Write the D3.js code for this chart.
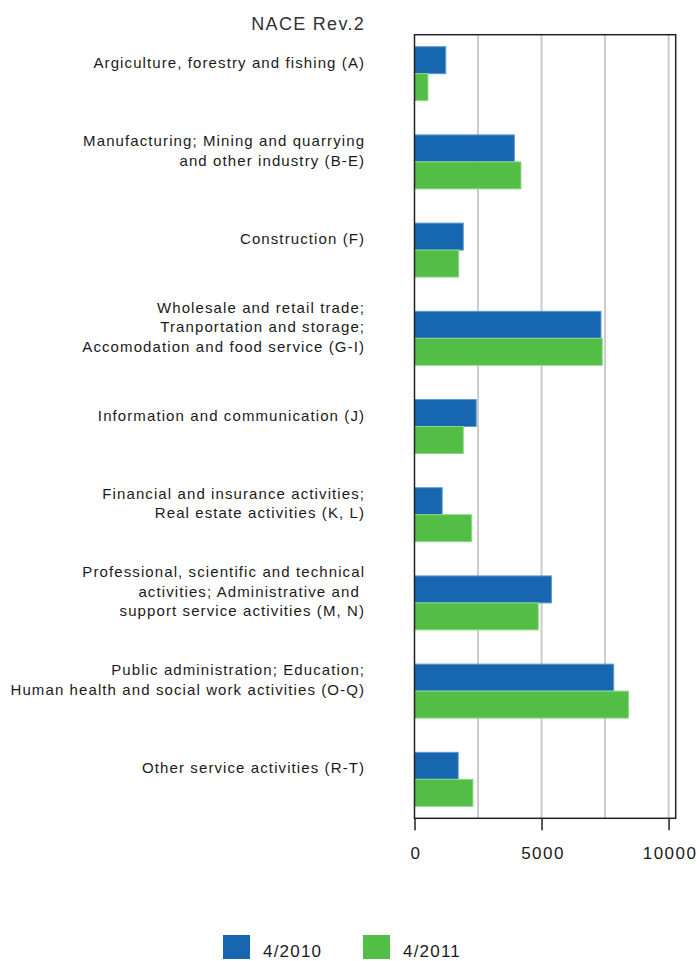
<!DOCTYPE html>
<html>
<head>
<meta charset="utf-8">
<script src="https://cdn.jsdelivr.net/npm/d3@7"></script>
<style>
  body { margin: 0; background: #fff; }
  text { font-family: "Liberation Sans", Arial, sans-serif; }
</style>
</head>
<body>
<div id="chart"></div>
<script>
// categories (label lines) and values
const categories = [
    ["Argiculture, forestry and fishing (A)"],
    ["Manufacturing; Mining and quarrying", "and other industry (B-E)"],
    ["Construction (F)"],
    ["Wholesale and retail trade;", "Tranportation and storage;", "Accomodation and food service (G-I)"],
    ["Information and communication (J)"],
    ["Financial and insurance activities;", "Real estate activities (K, L)"],
    ["Professional, scientific and technical", "activities; Administrative and ", "support service activities (M, N)"],
    ["Public administration; Education;", "Human health and social work activities (O-Q)"],
    ["Other service activities (R-T)"]
];
const series = ["4/2010", "4/2011"];
const values2010 = [1230, 3930, 1920, 7340, 2430, 1090, 5390, 7840, 1720];
const values2011 = [530, 4190, 1740, 7390, 1920, 2250, 4870, 8420, 2300];
const gridTicks = [2500, 5000, 7500, 10000];
const axisTicks = [0, 5000, 10000];

const COLORS = {
    "4/2010": "#1766b0",
    "4/2011": "#52be45",
    stroke2010: "#5f9ad0",
    stroke2011: "#8fd985",
    grid: "#cccccc",
    frame: "#222222",
    text: "#1a1a1a"
};

const W = 697, H = 961;
const plot = {left: 414.5, right: 675.7, top: 34.7, bottom: 818.3};
const LABEL_LS = 1.1; //letter spacing of the category labels

const svg = d3.select("#chart").append("svg")
    .attr("width", W)
    .attr("height", H);

//////////////// Scales ////////////////
const x = d3.scaleLinear()
    .domain([0, 10280])
    .range([plot.left, plot.right]);

const y = d3.scaleBand()
    .domain(d3.range(categories.length))
    .range([plot.top, plot.bottom])
    .paddingInner(0.388)
    .paddingOuter(0.136);

const ySub = d3.scaleBand()
    .domain(series)
    .range([0, y.bandwidth()]);

//////////////// Grid ////////////////
svg.append("g")
    .selectAll("line")
    .data(gridTicks)
    .join("line")
    .attr("x1", d => x(d)).attr("x2", d => x(d))
    .attr("y1", plot.top).attr("y2", plot.bottom)
    .attr("stroke", COLORS.grid)
    .attr("stroke-width", 2);

//////////////// Bars ////////////////
const rows = categories.map((c, i) => ({i, v: {"4/2010": values2010[i], "4/2011": values2011[i]}}));

const groups = svg.append("g")
    .selectAll("g")
    .data(rows)
    .join("g")
    .attr("transform", d => `translate(0,${y(d.i)})`);

groups.selectAll("rect")
    .data(d => series.map(s => ({s, v: d.v[s]})))
    .join("rect")
    .attr("x", x(0))
    .attr("y", d => ySub(d.s))
    .attr("width", d => x(d.v) - x(0))
    .attr("height", ySub.bandwidth())
    .attr("fill", d => COLORS[d.s])
    .attr("stroke", d => d.s === "4/2010" ? COLORS.stroke2010 : COLORS.stroke2011)
    .attr("stroke-width", 1);

//////////////// Frame ////////////////
svg.append("rect")
    .attr("x", plot.left).attr("y", plot.top)
    .attr("width", plot.right - plot.left)
    .attr("height", plot.bottom - plot.top)
    .attr("fill", "none")
    .attr("stroke", COLORS.frame)
    .attr("stroke-width", 1.5);

//////////////// Axis ////////////////
const xAxis = svg.append("g")
    .attr("transform", `translate(0,${plot.bottom})`)
    .call(d3.axisBottom(x).tickValues(axisTicks).tickSize(12).tickPadding(17).tickFormat(d3.format("d")));
xAxis.select(".domain").remove();
xAxis.selectAll(".tick line").attr("stroke", COLORS.frame).attr("stroke-width", 1.5);
xAxis.selectAll(".tick text")
    .attr("font-size", 17)
    .attr("letter-spacing", 1.5)
    .attr("dx", 1)
    .attr("font-family", "Liberation Sans, Arial, sans-serif")
    .attr("fill", COLORS.text);

//////////////// Category labels ////////////////
const lineH = 19.5;
svg.append("g")
    .selectAll("text")
    .data(rows)
    .join("text")
    .attr("text-anchor", "end")
    .attr("font-size", 15)
    .attr("letter-spacing", LABEL_LS)
    .attr("fill", COLORS.text)
    .each(function(d) {
        const lines = categories[d.i];
        const cy = y(d.i) + 16;
        const y0 = cy - (lines.length - 1) * lineH / 2 + 5;
        d3.select(this).selectAll("tspan")
            .data(lines)
            .join("tspan")
            .attr("x", 364 + LABEL_LS)
            .attr("y", (l, k) => y0 + k * lineH)
            .text(l => l);
    });

//////////////// Title ////////////////
svg.append("text")
    .attr("x", 365)
    .attr("y", 30)
    .attr("text-anchor", "end")
    .attr("font-size", 18)
    .attr("letter-spacing", 1.3)
    .attr("fill", "#333")
    .text("NACE Rev.2");

//////////////// Legend ////////////////
const legend = svg.append("g")
    .selectAll("g")
    .data(series)
    .join("g")
    .attr("transform", (d, i) => `translate(${223 + i * 140},935)`);

legend.append("rect")
    .attr("width", 27)
    .attr("height", 24)
    .attr("fill", d => COLORS[d]);

legend.append("text")
    .attr("x", 40)
    .attr("y", 22)
    .attr("font-size", 17)
    .attr("letter-spacing", 1.2)
    .attr("fill", COLORS.text)
    .text(d => d);
</script>
</body>
</html>
